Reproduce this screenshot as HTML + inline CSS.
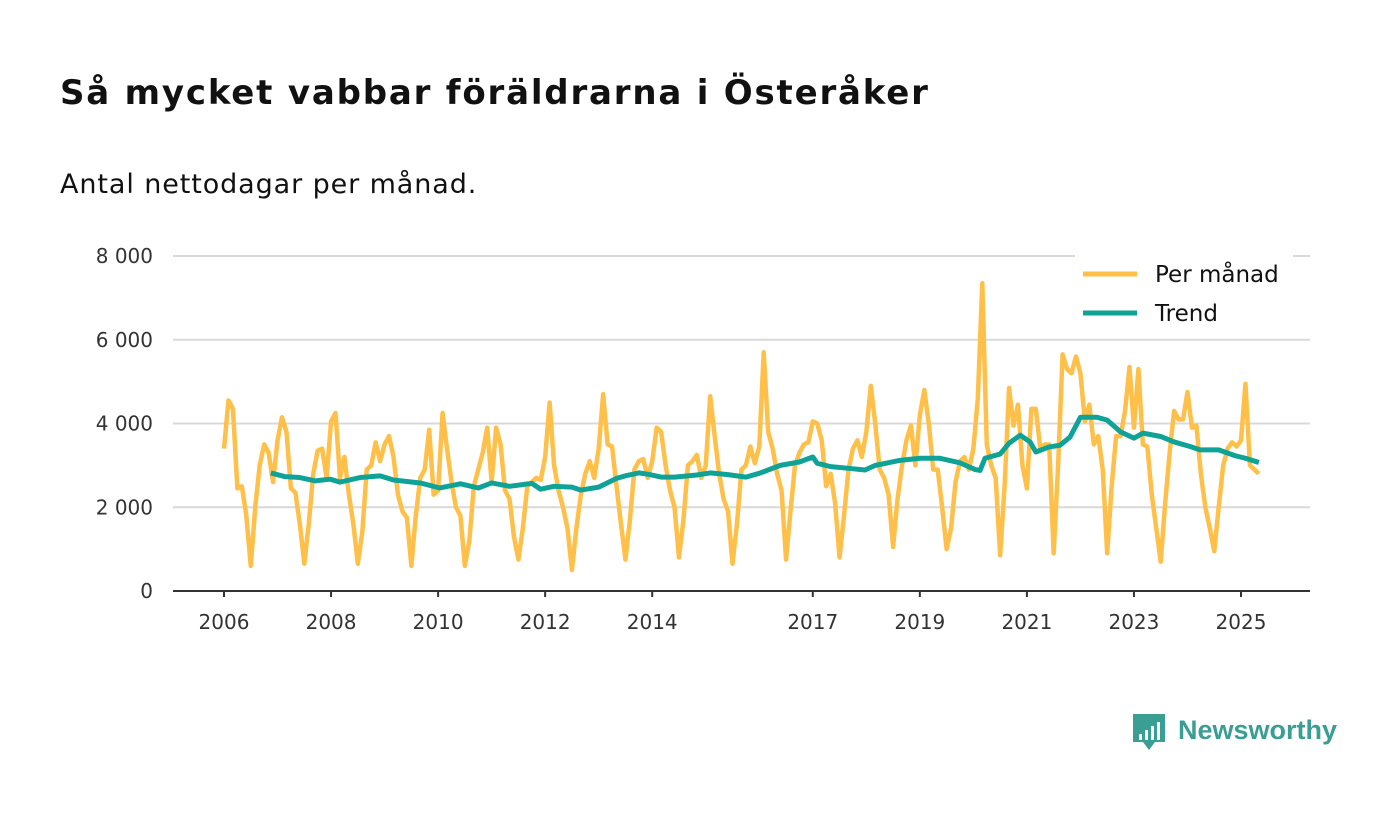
<!DOCTYPE html>
<html><head><meta charset="utf-8">
<style>
body{margin:0;background:#fff;font-family:"Liberation Sans","DejaVu Sans",sans-serif;}
#wrap{position:relative;width:1400px;height:813px;overflow:hidden;}
h1{position:absolute;left:60px;top:73px;margin:0;font-family:"DejaVu Sans","Liberation Sans",sans-serif;font-size:34px;font-weight:bold;color:#111;letter-spacing:1.8px;white-space:nowrap;}
#sub{position:absolute;left:60px;top:169px;font-family:"DejaVu Sans","Liberation Sans",sans-serif;font-size:27px;color:#111;letter-spacing:0.9px;white-space:nowrap;}
svg text{font-family:"DejaVu Sans","Liberation Sans",sans-serif;}
</style></head>
<body>
<div id="wrap">
<h1>Så mycket vabbar föräldrarna i Österåker</h1>
<div id="sub">Antal nettodagar per månad.</div>
<svg id="chart" width="1400" height="813" style="position:absolute;left:0;top:0"></svg>
</div>
<script>
const yTicks=[0,2000,4000,6000,8000];
const yTickLabels=["0","2 000","4 000","6 000","8 000"];
const xTickYears=[2006,2008,2010,2012,2014,2017,2019,2021,2023,2025];
const startYear=2006;
const monthly=[
3400,4550,4350,2450,2500,1800,600,2000,3000,3500,3300,2600,
3600,4150,3800,2450,2350,1600,650,1600,2800,3350,3400,2700,
4050,4250,2700,3200,2300,1600,650,1400,2900,3000,3550,3100,
3500,3700,3200,2300,1900,1750,600,1800,2700,2900,3850,2300,
2400,4250,3400,2600,2000,1800,600,1200,2500,2900,3300,3900,
2600,3900,3500,2400,2200,1300,750,1500,2500,2600,2700,2650,
3200,4500,3000,2400,2000,1500,500,1500,2300,2800,3100,2700,
3400,4700,3500,3450,2500,1600,750,1700,2900,3100,3150,2700,
3100,3900,3800,3000,2400,2000,800,1700,3000,3100,3250,2700,
3000,4650,3700,2800,2200,1900,650,1600,2900,3000,3450,3050,
3450,5700,3800,3400,2800,2400,750,1900,3000,3300,3500,3550,
4050,4000,3600,2500,2800,2100,800,1800,2900,3400,3600,3200,
3800,4900,4000,2900,2700,2300,1050,2200,3000,3600,3950,3000,
4200,4800,4000,2900,2900,2000,1000,1500,2600,3100,3200,2900,
3400,4600,7350,3500,3000,2700,850,2500,4850,3950,4450,3000,
2450,4350,4350,3400,3500,3500,900,3000,5650,5300,5200,5600,
5200,4050,4450,3500,3700,2900,900,2500,3700,3700,4300,5350,
3900,5300,3500,3450,2300,1500,700,2100,3300,4300,4100,4100,
4750,3900,3950,2800,2000,1500,950,2000,3000,3400,3550,3450,
3600,4950,3000,2900,2800
];
const trendMonth=[10.5,13.7,17,20.4,23.8,26,30.5,35,38,44,48.4,53,57,60,64,69,71,74,78,80,84,88,90,93,95,98,101,104,106,109,113,117,120,124.7,129,132,133,136,140,143.7,146,151.6,156,160.5,165,168.4,169.5,170.6,174,176,178.5,180.7,182,185,187.4,189.7,192,195.7,198,201,204,206,210,213,216.6,218.8,223,226.7,229,232];
const trendValue=[2820,2730,2710,2630,2670,2600,2710,2750,2650,2580,2460,2560,2460,2580,2500,2570,2430,2500,2480,2410,2480,2690,2750,2820,2790,2720,2720,2750,2770,2820,2780,2720,2810,3000,3080,3200,3050,2970,2930,2890,3000,3120,3170,3170,3060,2900,2880,3170,3270,3530,3720,3560,3320,3440,3480,3680,4150,4150,4080,3800,3650,3770,3690,3560,3450,3370,3370,3230,3170,3070];

const NS="http://www.w3.org/2000/svg";
const svg=document.getElementById('chart');
const X0=224,PX_PER_MONTH=(1241-224)/228,Y0=591,PX_PER_UNIT=335/8000;
const xs=m=>X0+m*PX_PER_MONTH;
const ys=v=>Y0-v*PX_PER_UNIT;
function mk(tag,attrs){const e=document.createElementNS(NS,tag);for(const k in attrs)e.setAttribute(k,attrs[k]);svg.appendChild(e);return e;}

yTicks.forEach((t,i)=>{
  if(t>0){const g=mk('line',{x1:173,x2:1310,y1:ys(t),y2:ys(t),stroke:'#d9d9d9','stroke-width':2});
  
  }
  const l=mk('text',{x:153,y:ys(t)+7,'text-anchor':'end','font-size':20,fill:'#333'});
  l.textContent=yTickLabels[i];
  
  
});
const ax=mk('line',{x1:173,x2:1310,y1:Y0,y2:Y0,stroke:'#333','stroke-width':2});


xTickYears.forEach(yr=>{
  const x=xs((yr-startYear)*12);
  const tk=mk('line',{x1:x,x2:x,y1:Y0,y2:Y0+6,stroke:'#333','stroke-width':2});
  
  
  const l=mk('text',{x:x,y:629,'text-anchor':'middle','font-size':20,fill:'#333'});
  l.textContent=yr;
  
  
});
const p1=mk('polyline',{points:monthly.map((v,i)=>xs(i)+','+ys(v)).join(' '),fill:'none',stroke:'#ffc04a','stroke-width':4.5,'stroke-linejoin':'round'});


const p2=mk('polyline',{points:trendMonth.map((m,i)=>xs(m)+','+ys(trendValue[i])).join(' '),fill:'none',stroke:'#0fa296','stroke-width':5,'stroke-linejoin':'round'});



const lb=mk('rect',{x:1075,y:250,width:218,height:84,fill:'#fff'});


[['Per månad','#ffc04a',274],['Trend','#0fa296',313]].forEach(([t,c,y])=>{
  const s=mk('line',{x1:1083,x2:1137,y1:y,y2:y,stroke:c,'stroke-width':5});
  
  
  const l=mk('text',{x:1155,y:y+8,'font-size':23,fill:'#111'});
  l.textContent=t;
  
  
});
const lg=mk('path',{d:'M1133 714 h32 v28 h-10 l-6 8 l-6 -8 h-10 z',fill:'#3a9e94'});


[[1140,734],[1146,730],[1152,726],[1158,722]].forEach(([x,y])=>{
  const b=mk('rect',{x:x-1,y:y,width:3,height:740-y,fill:'#fff'});
  
  
});
const lt=mk('text',{x:1178,y:739,'font-size':27,'font-weight':'bold',fill:'#3a9e94',style:'font-family:"Liberation Sans",sans-serif'});
lt.textContent='Newsworthy';


</script>
</body></html>
